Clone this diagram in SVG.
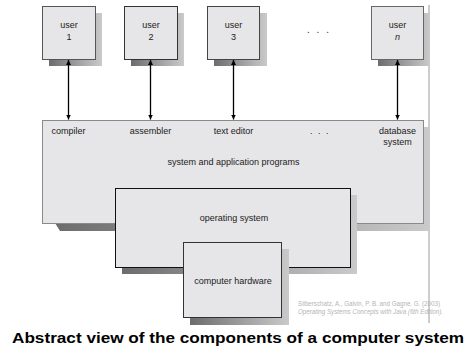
<svg xmlns="http://www.w3.org/2000/svg" width="471" height="356" viewBox="0 0 471 356">
  <defs>
    <linearGradient id="shade" x1="0" y1="0" x2="1" y2="0">
      <stop offset="0" stop-color="#6c6c6c"/>
      <stop offset="1" stop-color="#cacaca"/>
    </linearGradient>
    <marker id="tip" viewBox="0 0 10 10" refX="10" refY="5" markerWidth="5" markerHeight="6" orient="auto-start-reverse" markerUnits="userSpaceOnUse">
      <path d="M0,0 L10,5 L0,10 Z" fill="#000"/>
    </marker>
    <style>
      .box { fill: #e6e5e7; }
      .shadow { fill: url(#shade); }
      .lbl { font-family: "Liberation Sans", Arial, sans-serif; font-size: 9px; fill: #222; text-anchor: middle; }
      .dots { font-family: "Liberation Sans", Arial, sans-serif; font-size: 10px; fill: #333; text-anchor: middle; }
      .cite { font-family: "Liberation Sans", Arial, sans-serif; font-size: 6.5px; fill: #b4b4b4; }
      .link { stroke: #000; stroke-width: 1.3; fill: none; marker-start: url(#tip); marker-end: url(#tip); }
    </style>
  </defs>

  <rect width="471" height="356" fill="#fff"/>

  <!-- page edge -->
  <line x1="429" y1="5" x2="429" y2="323" stroke="#9a9a9a" stroke-width="1"/>

  <!-- users -->
  <g id="user1">
    <rect class="shadow" x="49" y="13" width="53" height="53"/>
    <rect class="box" x="42.5" y="6.5" width="53" height="53" stroke="#555" stroke-width="1"/>
    <text class="lbl" x="69" y="28">user</text>
    <text class="lbl" x="69" y="40">1</text>
  </g>
  <g id="user2">
    <rect class="shadow" x="131" y="13" width="53" height="53"/>
    <rect class="box" x="124.5" y="6.5" width="53" height="53" stroke="#333" stroke-width="1"/>
    <text class="lbl" x="151" y="28">user</text>
    <text class="lbl" x="151" y="40">2</text>
  </g>
  <g id="user3">
    <rect class="shadow" x="214" y="13" width="53" height="53"/>
    <rect class="box" x="207.5" y="6.5" width="52" height="53" stroke="#444" stroke-width="1"/>
    <text class="lbl" x="233.5" y="28">user</text>
    <text class="lbl" x="233.5" y="40">3</text>
  </g>
  <text class="dots" x="319" y="33" letter-spacing="2">. . .</text>
  <g id="usern">
    <rect class="shadow" x="378" y="13" width="52" height="53"/>
    <rect class="box" x="371.5" y="6.5" width="52" height="53" stroke="#666" stroke-width="1"/>
    <text class="lbl" x="397.5" y="28">user</text>
    <text class="lbl" x="397.5" y="40" font-style="italic">n</text>
  </g>

  <!-- connectors -->
  <g id="connectors">
    <line class="link" x1="68.5" y1="60" x2="68.5" y2="119.5"/>
    <line class="link" x1="150.5" y1="60" x2="150.5" y2="119.5"/>
    <line class="link" x1="233.5" y1="60" x2="233.5" y2="119.5"/>
    <line class="link" x1="397.5" y1="60" x2="397.5" y2="119.5"/>
  </g>

  <!-- system and application programs -->
  <g id="programs">
    <path class="shadow" d="M55,223 L60,231 L429,231 L429,127 L423,127 L423,223 Z"/>
    <rect class="box" x="42.5" y="120.5" width="381" height="103" stroke="#8a8a8a" stroke-width="1"/>
    <text class="lbl" x="68.5" y="134">compiler</text>
    <text class="lbl" x="150.5" y="134">assembler</text>
    <text class="lbl" x="233.5" y="134">text editor</text>
    <text class="lbl" x="320" y="134" letter-spacing="1.5">. . .</text>
    <text class="lbl" x="397.5" y="134">database</text>
    <text class="lbl" x="397.5" y="145">system</text>
    <text class="lbl" x="233.5" y="165">system and application programs</text>
  </g>

  <!-- operating system -->
  <g id="os">
    <rect class="shadow" x="122" y="195" width="235" height="79"/>
    <rect class="box" x="115.5" y="188.5" width="235" height="79" stroke="#111" stroke-width="1"/>
    <text class="lbl" x="234" y="221">operating system</text>
  </g>

  <!-- computer hardware -->
  <g id="hardware">
    <rect class="shadow" x="190" y="249" width="99" height="76"/>
    <rect class="box" x="183.5" y="242.5" width="98" height="75" stroke="#333" stroke-width="1"/>
    <text class="lbl" x="233" y="284">computer hardware</text>
  </g>

  <!-- citation -->
  <text class="cite" x="298" y="306" textLength="142" lengthAdjust="spacingAndGlyphs">Silberschatz, A., Galvin, P. B. and Gagne. G. (2003)</text>
  <text class="cite" x="298" y="314" font-style="italic" textLength="145" lengthAdjust="spacingAndGlyphs">Operating Systems Concepts with Java (6th Edition).</text>

  <!-- caption -->
  <text x="12" y="343" font-family="'Comic Sans MS', 'Liberation Sans', sans-serif" font-weight="bold" font-size="15.5" fill="#000" textLength="452" lengthAdjust="spacingAndGlyphs">Abstract view of the components of a computer system</text>
</svg>
